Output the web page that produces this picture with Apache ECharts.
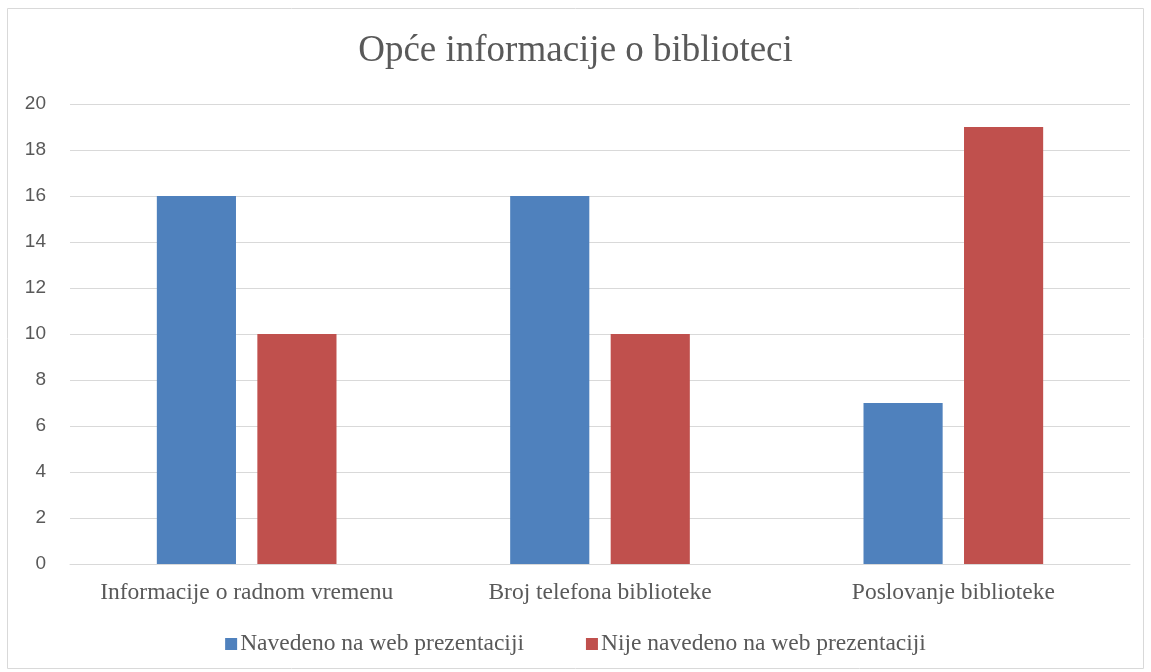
<!DOCTYPE html>
<html>
<head>
<meta charset="utf-8">
<script src="https://cdn.jsdelivr.net/npm/echarts@6/dist/echarts.min.js"></script>
<style>
html, body { margin: 0; padding: 0; background: #fff; }
#chart { width: 1151px; height: 672px; }
</style>
</head>
<body>
<div id="chart"></div>
<script>
// kategorije i vrijednosti
const categories = ["Informacije o radnom vremenu", "Broj telefona biblioteke", "Poslovanje biblioteke"];
const navedeno = [16, 16, 7];
const nijeNavedeno = [10, 10, 19];
const seriesNames = ["Navedeno na web prezentaciji", "Nije navedeno na web prezentaciji"];

const chart = echarts.init(document.getElementById("chart"));
chart.setOption({
    animation: false,
    // okvir grafikona
    graphic: [{
        type: "rect",
        shape: { x: 7.5, y: 8.5, width: 1136, height: 660 },
        style: { fill: "none", stroke: "#d9d9d9", lineWidth: 1 },
        silent: true,
    }],
    title: {
        text: "Opće informacije o biblioteci",
        left: "center",
        top: 28,
        textStyle: {
            fontFamily: "Liberation Serif",
            fontWeight: "normal",
            fontSize: 37,
            color: "#595959",
        },
    },
    legend: {
        data: seriesNames,
        bottom: 11,
        left: "center",
        itemWidth: 12,
        itemHeight: 12,
        itemGap: 62,
        icon: "rect",
        textStyle: {
            fontFamily: "Liberation Serif",
            fontSize: 23.5,
            color: "#595959",
            padding: [0, 0, 0, -2],
        },
    },
    grid: {
        left: 70,
        right: 21,
        top: 104,
        bottom: 108,
    },
    xAxis: {
        type: "category",
        data: categories,
        axisTick: { show: false },
        axisLine: { lineStyle: { color: "#d9d9d9", width: 1 } },
        axisLabel: {
            interval: 0,
            hideOverlap: false,
            fontFamily: "Liberation Serif",
            fontSize: 23.5,
            color: "#595959",
            margin: 17,
        },
    },
    yAxis: {
        type: "value",
        min: 0,
        max: 20,
        interval: 2,
        axisLine: { show: false },
        axisTick: { show: false },
        splitLine: { lineStyle: { color: "#d9d9d9", width: 1 } },
        axisLabel: {
            fontFamily: "Liberation Sans",
            fontSize: 19,
            color: "#595959",
            margin: 24,
        },
    },
    series: [
        {
            name: seriesNames[0],
            type: "bar",
            data: navedeno,
            barWidth: "22.4%",
            barGap: "27%",
            itemStyle: { color: "#4F81BD" },
        },
        {
            name: seriesNames[1],
            type: "bar",
            data: nijeNavedeno,
            barWidth: "22.4%",
            barGap: "27%",
            itemStyle: { color: "#C0504D" },
        },
    ],
});
</script>
</body>
</html>
